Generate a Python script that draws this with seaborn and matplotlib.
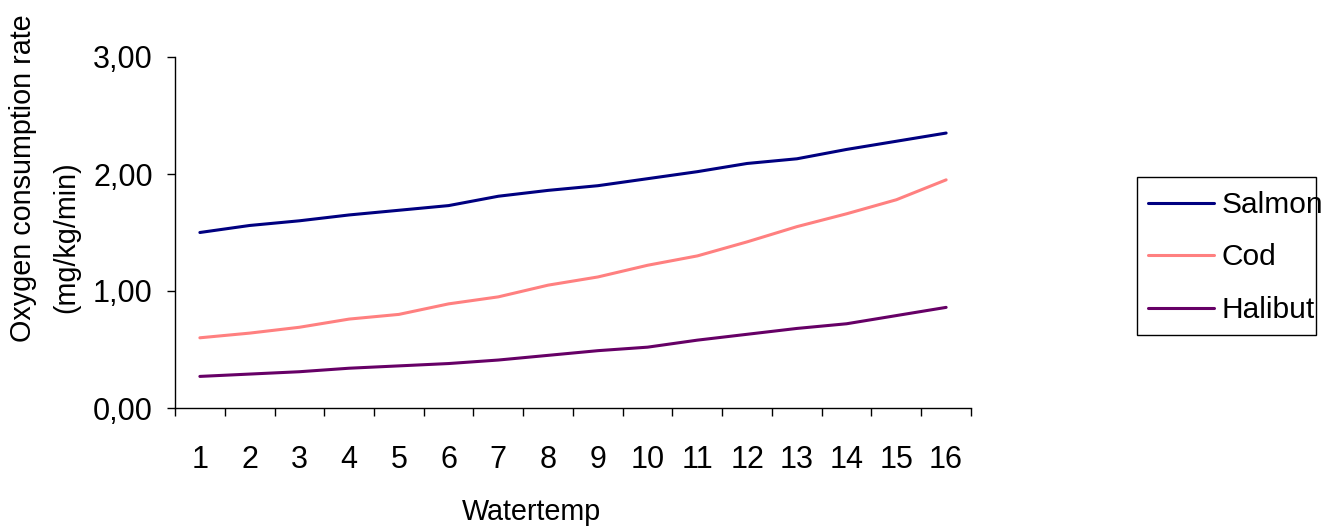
import matplotlib
matplotlib.use("Agg")
import matplotlib.pyplot as plt
from matplotlib.patches import Rectangle
import numpy as np
import pandas as pd
import seaborn as sns

watertemp = list(range(1, 17))
salmon = [1.50, 1.56, 1.60, 1.65, 1.69, 1.73, 1.81, 1.86, 1.90, 1.96, 2.02, 2.09, 2.13, 2.21, 2.28, 2.35]
cod = [0.60, 0.64, 0.69, 0.76, 0.80, 0.89, 0.95, 1.05, 1.12, 1.22, 1.30, 1.42, 1.55, 1.66, 1.78, 1.95]
halibut = [0.27, 0.29, 0.31, 0.34, 0.36, 0.38, 0.41, 0.45, 0.49, 0.52, 0.58, 0.63, 0.68, 0.72, 0.79, 0.86]
series_names = ["Salmon", "Cod", "Halibut"]
y_ticks = [0.0, 1.0, 2.0, 3.0]

df = pd.DataFrame({
    "Watertemp": watertemp * 3,
    "value": salmon + cod + halibut,
    "species": [n for n in series_names for _ in watertemp],
})

sns.set_style("white")
plt.rcParams["font.family"] = ["Liberation Sans", "DejaVu Sans"]
plt.rcParams["text.color"] = "black"
plt.rcParams["axes.labelcolor"] = "black"
plt.rcParams["xtick.color"] = "black"
plt.rcParams["ytick.color"] = "black"
FS_TICK = 22
FS_TITLE = 20.7
FS_LEG = 21.5

W, H = 1325, 526
fig = plt.figure(figsize=(W / 100, H / 100), dpi=100)
ax = fig.add_axes([175 / W, 1 - 408 / H, (971 - 175) / W, (408 - 57) / H])

palette = {"Salmon": "#000080", "Cod": "#FF8080", "Halibut": "#660066"}
sns.lineplot(data=df, x="Watertemp", y="value", hue="species", hue_order=series_names,
             palette=palette, linewidth=2.2, ax=ax, legend=True)

ax.set_xlim(0.5, 16.5)
ax.set_ylim(0, 3)
ax.set_yticks(y_ticks)
ax.set_yticklabels([f"{v:.2f}".replace(".", ",") for v in y_ticks], fontsize=FS_TICK)

# category labels at centres, tick marks at category boundaries
ax.set_xticks(np.arange(0.5, 17, 1.0))
ax.set_xticklabels([])
ax.set_xticks(watertemp, minor=True)
ax.set_xticklabels([str(v) for v in watertemp], minor=True, fontsize=FS_TICK)
ax.tick_params(axis="x", which="major", direction="out", length=6, width=1, bottom=True)
ax.tick_params(axis="x", which="minor", length=0, pad=27)
ax.tick_params(axis="y", direction="out", length=6, width=1, left=True, pad=10)

for side in ["top", "right"]:
    ax.spines[side].set_visible(False)
for side in ["left", "bottom"]:
    ax.spines[side].set_color("black")
    ax.spines[side].set_linewidth(1)

ax.set_xlabel("")
ax.set_ylabel("")
fig.text(531 / W, 1 - 512 / H, "Watertemp", fontsize=FS_TITLE, ha="center", va="center")
fig.text(23.5 / W, 1 - 178 / H, "Oxygen consumption rate", fontsize=FS_TITLE,
         rotation=90, ha="center", va="center")
fig.text(66.5 / W, 1 - 237.5 / H, "(mg/kg/min)", fontsize=FS_TITLE,
         rotation=90, ha="center", va="center")

handles, labels = ax.get_legend_handles_labels()
ax.get_legend().remove()
leg = fig.legend(handles, labels, loc="center left",
                 bbox_to_anchor=(1148 / W, 1 - 257.5 / H),
                 fontsize=FS_LEG, frameon=False,
                 handlelength=2.2, handletextpad=0.27, labelspacing=0.82,
                 borderpad=0, borderaxespad=0)
fig.patches.append(Rectangle((1137 / W, 1 - 335 / H), 179 / W, 158 / H,
                             transform=fig.transFigure, fill=False,
                             edgecolor="black", linewidth=1))

fig.savefig("out.png", dpi=100)
